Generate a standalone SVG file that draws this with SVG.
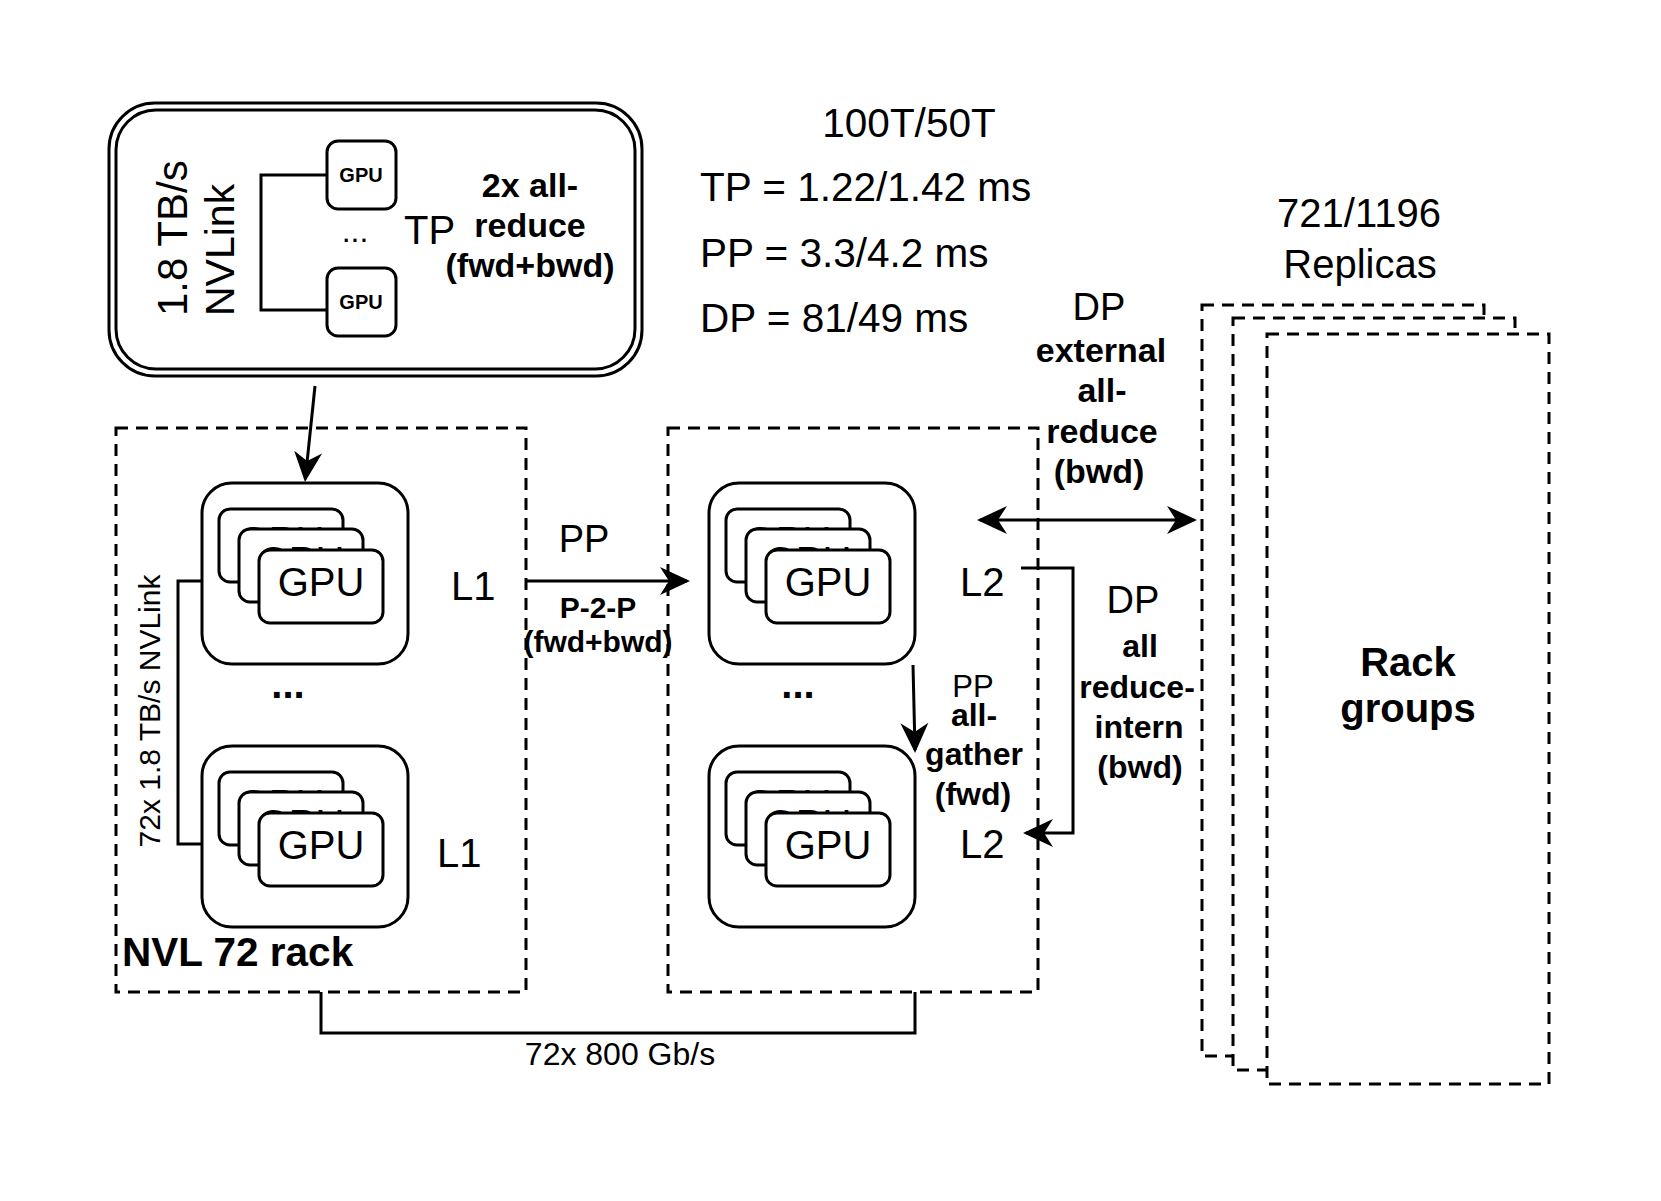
<svg xmlns="http://www.w3.org/2000/svg" width="1661" height="1201" viewBox="0 0 1661 1201">
<style>
text{font-family:"Liberation Sans",Arial,sans-serif;fill:#000}
.b{font-weight:bold}
.ln{fill:none;stroke:#000;stroke-width:3}
.dash{fill:none;stroke:#000;stroke-width:3;stroke-dasharray:12 8}
.rdash{fill:#fff;stroke:#000;stroke-width:3;stroke-dasharray:12 8}
.grp{fill:#fff;stroke:#000;stroke-width:3}
.card{fill:#fff;stroke:#000;stroke-width:3}
.f40{font-size:40px}
.f34{font-size:34px}
.f32{font-size:32px}
.f30{font-size:30px}
.m{text-anchor:middle}
</style>
<defs>
<marker id="ah" viewBox="-31 -15 32 30" refX="-3" refY="0" markerWidth="32" markerHeight="30" markerUnits="userSpaceOnUse" orient="auto-start-reverse">
<path d="M0,0 L-30,-14 L-21,0 L-30,14 Z" fill="#000"/>
</marker>
<g id="gpustack">
<rect class="grp" x="0" y="0" width="206" height="181" rx="30"/>
<rect class="card" x="17" y="26" width="124" height="73" rx="11"/>
<text class="f40 m" x="79" y="72">GPU</text>
<rect class="card" x="37" y="46" width="124" height="73" rx="11"/>
<text class="f40 m" x="99" y="92">GPU</text>
<rect class="card" x="57" y="67" width="124" height="73" rx="11"/>
<text class="f40 m" x="119" y="113">GPU</text>
</g>
</defs>
<rect width="1661" height="1201" fill="#fff"/>

<!-- TP node -->
<g id="tp-node">
<rect class="ln" x="109" y="103" width="533" height="273" rx="46"/>
<rect class="ln" x="116" y="110" width="519" height="259" rx="40"/>
<text style="font-size:42px" transform="translate(187,316) rotate(-90)">1.8 TB/s</text>
<text style="font-size:41px" transform="translate(234,316) rotate(-90)">NVLink</text>
<path class="ln" d="M327,175 H261 V310 H327"/>
<rect class="card" x="327" y="141" width="69" height="68" rx="11"/>
<text class="b m" style="font-size:20px" x="361" y="182">GPU</text>
<text class="m" style="font-size:32px" x="355" y="242">...</text>
<rect class="card" x="327" y="268" width="69" height="68" rx="11"/>
<text class="b m" style="font-size:20px" x="361" y="309">GPU</text>
<text class="f40" x="404" y="244">TP</text>
<text class="b f34 m" x="530" y="197">2x all-</text>
<text class="b f34 m" x="530" y="237">reduce</text>
<text class="b f34 m" x="530" y="277">(fwd+bwd)</text>
</g>

<!-- stats -->
<g id="stats">
<text class="m" style="font-size:40.5px" x="909" y="137">100T/50T</text>
<text style="font-size:40.5px" x="700" y="201">TP = 1.22/1.42 ms</text>
<text style="font-size:40.5px" x="700" y="267">PP = 3.3/4.2 ms</text>
<text style="font-size:40.5px" x="700" y="332">DP = 81/49 ms</text>
</g>

<!-- rack 1 -->
<g id="rack1">
<rect class="dash" x="116" y="428" width="410" height="564"/>
<text class="f30 m" transform="translate(160,711) rotate(-90)">72x 1.8 TB/s NVLink</text>
<path class="ln" d="M202,581 H178 V844 H202"/>
<use href="#gpustack" x="202" y="483"/>
<use href="#gpustack" x="202" y="746"/>
<text class="f40" x="451" y="600">L1</text>
<text class="f40" x="437" y="867">L1</text>
<text class="b f40 m" x="288" y="698">...</text>
<text class="b" style="font-size:40.5px" x="122" y="966">NVL 72 rack</text>
</g>

<!-- rack 2 -->
<g id="rack2">
<rect class="dash" x="668" y="428" width="370" height="564"/>
<use href="#gpustack" x="709" y="483"/>
<use href="#gpustack" x="709" y="746"/>
<text class="f40" x="960" y="596">L2</text>
<text class="f40" x="960" y="858">L2</text>
<text class="b f40 m" x="798" y="698">...</text>
</g>

<!-- rack groups -->
<g id="rack-groups">
<rect class="rdash" x="1202" y="305" width="282" height="751"/>
<rect class="rdash" x="1233" y="318" width="282" height="752"/>
<rect class="rdash" x="1267" y="334" width="282" height="750"/>
<text class="b f40 m" x="1408" y="676">Rack</text>
<text class="b f40 m" x="1408" y="722">groups</text>
<text class="f40 m" x="1359" y="227">721/1196</text>
<text class="f40 m" x="1360" y="278">Replicas</text>
</g>

<!-- connectors -->
<g id="connectors">
<line class="ln" x1="315" y1="386" x2="305.3" y2="479" marker-end="url(#ah)"/>
<line class="ln" x1="526" y1="581" x2="687" y2="581" marker-end="url(#ah)"/>
<line class="ln" x1="913" y1="665" x2="915" y2="750" marker-end="url(#ah)"/>
<path class="ln" d="M1021,568 H1073 V833 H1026" marker-end="url(#ah)"/>
<line class="ln" x1="980" y1="520" x2="1194" y2="520" marker-start="url(#ah)" marker-end="url(#ah)"/>
<path class="ln" d="M321,992 V1033 H915 V992"/>
<text style="font-size:38px" x="584" y="552" text-anchor="middle">PP</text>
<text class="b f30 m" x="598" y="618">P-2-P</text>
<text class="b f30 m" x="598" y="652">(fwd+bwd)</text>
<text class="m" style="font-size:31px" x="973" y="697">PP</text>
<text class="b f32 m" x="974" y="726">all-</text>
<text class="b f32 m" x="974" y="765">gather</text>
<text class="b f32 m" x="973" y="805">(fwd)</text>
<text class="m" style="font-size:38px" x="1099" y="320">DP</text>
<text class="b f34 m" x="1101" y="362">external</text>
<text class="b f34 m" x="1102" y="402">all-</text>
<text class="b f34 m" x="1102" y="443">reduce</text>
<text class="b f34 m" x="1099" y="483">(bwd)</text>
<text class="m" style="font-size:38px" x="1133" y="613">DP</text>
<text class="b f32 m" x="1140" y="657">all</text>
<text class="b f32 m" x="1137" y="698">reduce-</text>
<text class="b f32 m" x="1139" y="738">intern</text>
<text class="b f32 m" x="1140" y="778">(bwd)</text>
<text class="f32 m" x="620" y="1065">72x 800 Gb/s</text>
</g>
</svg>
